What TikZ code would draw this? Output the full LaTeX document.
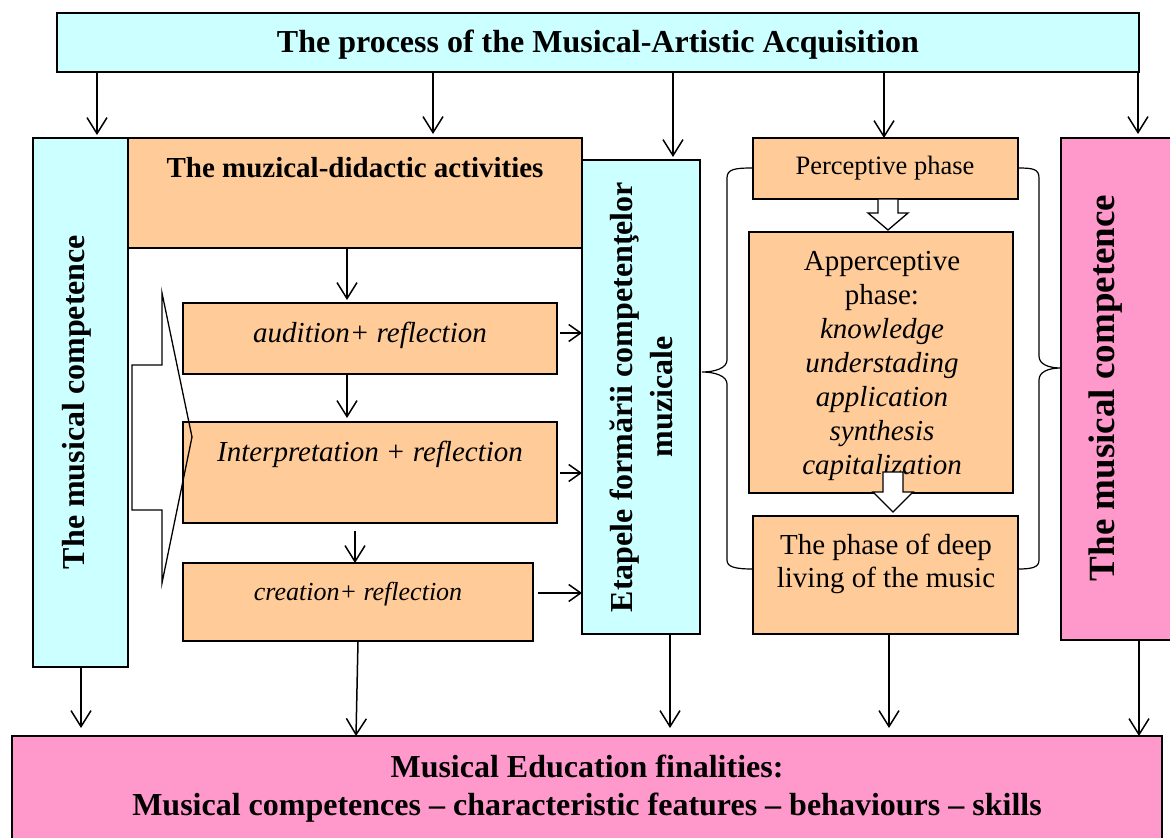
\documentclass[tikz,border=0pt]{standalone}
\usepackage{fontspec}
\setmainfont{Liberation Serif}
\usetikzlibrary{arrows.meta,fit}
\definecolor{cyanbox}{HTML}{CCFFFF}
\definecolor{orangebox}{HTML}{FFCC99}
\definecolor{pinkbox}{HTML}{FF99CC}
\begin{document}
\begin{tikzpicture}[x=1pt,y=-1pt,
  box/.style={draw=black, line width=1.5pt, inner sep=0pt, outer sep=0pt},
  cbox/.style={box, fill=cyanbox},
  obox/.style={box, fill=orangebox},
  pbox/.style={box, fill=pinkbox},
  arr/.style={line width=1.5pt, -{Straight Barb[length=16pt,width=20pt,line width=1.5pt]}},
  sarr/.style={line width=1.5pt, -{Straight Barb[length=12pt,width=17pt,line width=1.5pt]}},
  txt/.style={inner sep=0pt, align=center},
  blk/.style={draw=black, line width=1.3pt, fill=white, line join=miter},
  brc/.style={draw=black, line width=1.2pt}
]
\useasboundingbox (0,0) rectangle (1170,838);
\clip (0,0) rectangle (1170,838);
\fill[white] (0,0) rectangle (1170,838);

% ---------- boxes ----------
\node[cbox, fit={(57,13) (1139,72)}] (top) {};
\node[txt, anchor=base, font=\fontsize{32}{38}\selectfont\bfseries] (ttop) at (598,52) {The process of the Musical-Artistic Acquisition};

\node[cbox, fit={(33,138) (128,667)}] (lc) {};
\node[txt, rotate=90, font=\fontsize{32}{38}\selectfont\bfseries] (tlc) at (77,402) {The musical competence};

\node[obox, fit={(128,138) (582,248)}] (act) {};
\node[txt, font=\fontsize{29}{34}\selectfont\bfseries] (tact) at (355,168) {The muzical-didactic activities};

\node[obox, fit={(183,303) (557,374)}] (aud) {};
\node[txt, font=\fontsize{29}{34}\selectfont\itshape] (taud) at (370,335) {audition+ reflection};

\node[obox, fit={(183,422) (557,523)}] (int) {};
\node[txt, font=\fontsize{29}{34}\selectfont\itshape] (tint) at (370,454) {Interpretation + reflection};

\node[obox, fit={(183,563) (533,641)}] (cr) {};
\node[txt, font=\fontsize{26}{30}\selectfont\itshape] (tcr) at (358,594) {creation+ reflection};

% chevron (hollow big arrow)
\draw[line width=1.3pt, line join=miter] (132,365) -- (162,365) -- (162,293) -- (192,437) -- (162,583) -- (162,510) -- (132,510) -- cycle;

\node[cbox, fit={(582,160) (700,634)}] (et) {};
\node[txt, rotate=90, font=\fontsize{32}{40}\selectfont\bfseries] (tet) at (641,397) {Etapele formării competenţelor\\muzicale};

\node[obox, fit={(753,138) (1018,199)}] (per) {};
\node[txt, font=\fontsize{26.5}{32}\selectfont] (tper) at (885,168) {Perceptive phase};

\node[obox, fit={(749,232) (1013,493)}] (app) {};
\node[txt, font=\fontsize{29}{34}\selectfont] (tapp) at (882,366) {Apperceptive\\phase:\\\itshape knowledge\\\itshape understading\\\itshape application\\\itshape synthesis\\\itshape capitalization};

\node[obox, fit={(753,516) (1018,634)}] (deep) {};
\node[txt, font=\fontsize{29}{33}\selectfont] (tdeep) at (886,564) {The phase of deep\\living of the music};

\node[pbox, fit={(1061,138) (1190,640)}] (rc) {};
\node[txt, rotate=90, font=\fontsize{37}{42}\selectfont\bfseries] (trc) at (1106,388) {The musical competence};

\node[pbox, fit={(12,736) (1162,860)}] (bot) {};
\node[txt, font=\fontsize{32}{38}\selectfont\bfseries] (tbot) at (587,789) {Musical Education finalities:\\Musical competences – characteristic features – behaviours – skills};

% hollow block arrows between phases
\draw[blk] (878,199) -- (898,199) -- (898,213) -- (908,213) -- (888,230) -- (868,213) -- (878,213) -- cycle;
\draw[blk] (883,472) -- (903,472) -- (903,492) -- (913,492) -- (893,512) -- (873,492) -- (883,492) -- cycle;

% braces
\draw[brc] (per.west |- 0,168) .. controls (735,168) and (727,169) .. (727,178) -- (727,360)
  .. controls (727,368) and (715,372) .. (702,372)
  .. controls (715,372) and (727,376) .. (727,384) -- (727,560)
  .. controls (727,567) and (735,569) .. (deep.west |- 0,569);
\draw[brc] (per.east |- 0,168) .. controls (1033,168) and (1039,169) .. (1039,178) -- (1039,356)
  .. controls (1039,364) and (1048,368) .. (rc.west |- 0,368)
  .. controls (1048,368) and (1039,372) .. (1039,380) -- (1039,560)
  .. controls (1039,567) and (1033,569) .. (deep.east |- 0,569);

% ---------- connectors ----------
\coordinate (c1) at (97,0);
\coordinate (c2) at (433,0);
\coordinate (c3) at (673,0);
\coordinate (c4) at (884,0);
\coordinate (c5) at (1138,0);
\draw[arr, shorten >=3pt] (top.south -| c1) -- (lc.north -| c1);
\draw[arr, shorten >=4pt] (top.south -| c2) -- (act.north -| c2);
\draw[arr, shorten >=3pt] (top.south -| c3) -- (et.north -| c3);
\draw[arr] (top.south -| c4) -- (per.north -| c4);
\draw[arr, shorten >=4pt] (top.south -| c5) -- (rc.north -| c5);

\coordinate (m1) at (347,0);
\coordinate (m3) at (355,0);
\draw[arr, shorten >=3pt] (act.south -| m1) -- (aud.north -| m1);
\draw[arr, shorten >=4pt] (aud.south -| m1) -- (int.north -| m1);
\draw[arr, shorten <=8pt] (int.south -| m3) -- (cr.north -| m3);

\coordinate (r1) at (0,333);
\coordinate (r2) at (0,473);
\coordinate (r3) at (0,593);
\draw[sarr, shorten <=3pt] (aud.east |- r1) -- (et.west |- r1);
\draw[sarr, shorten <=3pt] (int.east |- r2) -- (et.west |- r2);
\draw[sarr, shorten <=5pt] (cr.east |- r3) -- (et.west |- r3);

\coordinate (b1) at (81,0);
\coordinate (b2) at (356,0);
\coordinate (b3) at (670,0);
\coordinate (b4) at (889,0);
\coordinate (b5) at (1139,0);
\draw[arr, shorten >=8pt] (lc.south -| b1) -- (bot.north -| b1);
\draw[arr] (cr.south -| 358,0) -- (bot.north -| b2);
\draw[arr, shorten >=8pt] (et.south -| b3) -- (bot.north -| b3);
\draw[arr, shorten >=8pt] (deep.south -| b4) -- (bot.north -| b4);
\draw[arr] (rc.south -| b5) -- (bot.north -| b5);
\end{tikzpicture}
\end{document}
